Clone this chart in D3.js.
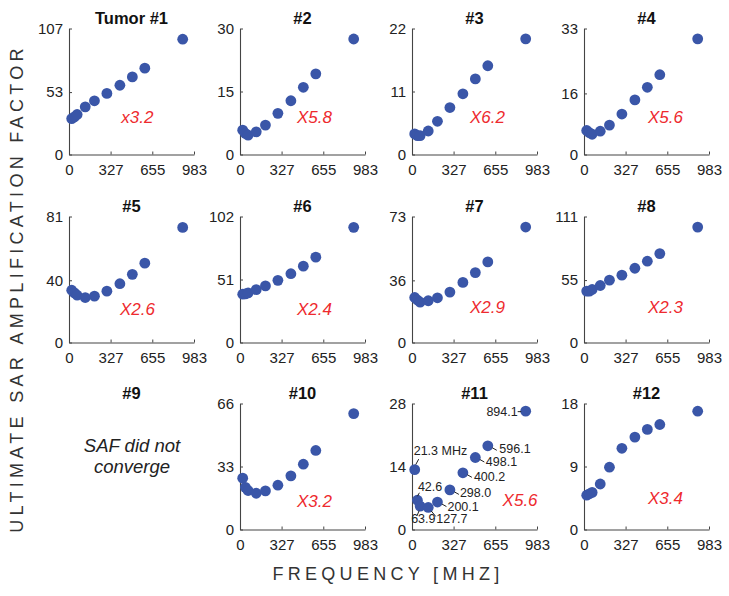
<!DOCTYPE html>
<html>
<head>
<meta charset="utf-8">
<script src="https://cdn.jsdelivr.net/npm/d3@7"></script>
<style>
  body { margin: 0; background: #fff; }
  text { font-family: "Liberation Sans", Arial, sans-serif; fill: #222; }
</style>
</head>
<body>
<svg id="chart" width="729" height="596"></svg>
<script>
// frequencies (MHz), same for every tumor
const freqs = [21.3, 42.6, 63.9, 127.7, 200.1, 298.0, 400.2, 498.1, 596.1, 894.1];
const xTicks = [0, 327, 655, 983];

const titles = ["Tumor #1", "#2", "#3", "#4", "#5", "#6", "#7", "#8", "#9", "#10", "#11", "#12"];
const yTicks = [
  [0, 53, 107], [0, 15, 30], [0, 11, 22], [0, 16, 33],
  [0, 40, 81], [0, 51, 102], [0, 36, 73], [0, 55, 111],
  null, [0, 33, 66], [0, 14, 28], [0, 9, 18]
];

// ultimate SAF values
const saf1  = [30.5, 31.9, 34.0, 40.5, 45.6, 51.9, 58.8, 65.9, 73.3, 97.9];
const saf2  = [5.8, 5.0, 4.6, 5.4, 7.0, 9.8, 12.8, 16.0, 19.2, 27.5];
const saf3  = [3.6, 3.3, 3.3, 4.1, 5.8, 8.2, 10.6, 13.2, 15.5, 20.2];
const saf4  = [6.3, 5.7, 5.3, 6.1, 7.7, 10.6, 14.3, 17.6, 20.9, 30.3];
const saf5  = [33.6, 31.9, 30.4, 28.9, 29.8, 33.0, 37.8, 43.8, 51.0, 74.0];
const saf6  = [39.1, 39.4, 40.2, 42.8, 45.8, 50.3, 55.7, 61.8, 69.1, 93.2];
const saf7  = [26.1, 24.6, 23.4, 24.2, 25.9, 29.2, 34.8, 40.5, 46.7, 66.9];
const saf8  = [45.3, 45.3, 46.7, 50.2, 54.9, 59.3, 65.4, 71.6, 78.3, 101.7];
const saf10 = [26.9, 22.1, 20.4, 19.0, 20.2, 23.2, 28.1, 34.2, 41.4, 60.7];
const saf11 = [13.3, 6.5, 5.2, 4.9, 6.1, 8.8, 12.6, 16.0, 18.6, 26.3];
const saf12 = [4.9, 5.1, 5.3, 6.5, 8.9, 11.6, 13.2, 14.3, 15.0, 16.9];
const safAll = [saf1, saf2, saf3, saf4, saf5, saf6, saf7, saf8, null, saf10, saf11, saf12];

const factors = ["x3.2", "X5.8", "X6.2", "X5.6", "X2.6", "X2.4", "X2.9", "X2.3", null, "X3.2", "X5.6", "X3.4"];
const noConvergeText = ["SAF did not", "converge"];
const annoLabels = ["21.3 MHz", "42.6", "63.9", "127.7", "200.1", "298.0", "400.2", "498.1", "596.1", "894.1"];

// layout
const colX = [69, 240, 412, 584];
const rowTop = [28.5, 216.5, 403.5];
const pw = 125, ph = 126;
const dotColor = "#3a56a8";
const red = "#ee2a2e";
// factor label: x in data units, lift in px above the x axis
const factorX = [538, 585, 593, 640, 538, 585, 593, 640, null, 585, 850, 640];
const factorLift = [32, 32, 32, 32, 28, 28, 30, 30, null, 23, 24, 26];
// panel #11 leaders: [x1, y1, x2, y2] and text offset relative to the dot
const annoLayout = [
  { line: [1, -5, 4, -10.5], tx: -1, ty: -14.5, anchor: "start" },
  { line: [0, -4, 2, -7.5], tx: 0.5, ty: -9, anchor: "start" },
  { line: [-1, 4.5, -3, 9.5], tx: -9, ty: 16.5, anchor: "start" },
  { line: [3, 3.5, 7.5, 9], tx: 8, ty: 16, anchor: "start" },
  { line: [4.5, 2, 9, 4.5], tx: 10, ty: 8.5, anchor: "start" },
  { line: [4.5, 2, 9, 4.5], tx: 10, ty: 7.5, anchor: "start" },
  { line: [4.5, 2, 9, 4.5], tx: 11, ty: 8, anchor: "start" },
  { line: [4.5, 2, 9, 4.5], tx: 10.5, ty: 8, anchor: "start" },
  { line: [4.5, 2, 9, 4.5], tx: 11.5, ty: 7.5, anchor: "start" },
  { line: [-4.5, 0.5, -8, 0.5], tx: -8, ty: 4.5, anchor: "end" }
];

const svg = d3.select("#chart");

titles.forEach((title, i) => {
  const col = i % 4, row = Math.floor(i / 4);
  const g = svg.append("g").attr("transform", `translate(${colX[col]},${rowTop[row]})`);

  g.append("text")
    .attr("x", pw / 2).attr("y", -5)
    .attr("text-anchor", "middle")
    .style("font-size", "16.5px").style("font-weight", "bold").style("fill", "#111")
    .text(title);

  const vals = safAll[i];
  if (!vals) {
    g.selectAll(".msg")
      .data(noConvergeText)
      .enter().append("text")
      .attr("class", "msg")
      .attr("x", pw / 2 + 0.5)
      .attr("y", (d, k) => 48.5 + k * 21)
      .attr("text-anchor", "middle")
      .style("font-size", "18.5px").style("font-style", "italic")
      .text(d => d);
    return;
  }

  const x = d3.scaleLinear().domain([0, 983]).range([0, pw]);
  const yt = yTicks[i];
  const y = d3.scaleLinear().domain([0, yt[2]]).range([ph, 0]);

  const xAxis = g.append("g").attr("transform", `translate(0,${ph})`)
    .call(d3.axisBottom(x).tickValues(xTicks).tickSize(-3).tickSizeOuter(0).tickPadding(10));
  const yAxis = g.append("g")
    .call(d3.axisLeft(y).tickValues(yt).tickSize(-3).tickSizeOuter(0).tickPadding(6));

  [xAxis, yAxis].forEach(a => {
    a.select(".domain").attr("stroke", "#444").attr("stroke-width", 1.1);
    a.selectAll(".tick line").attr("stroke", "#444");
    a.selectAll(".tick text").style("font-size", "15px").style("fill", "#222")
      .attr("font-family", null);
  });

  g.selectAll(".dot")
    .data(vals)
    .enter().append("circle")
    .attr("class", "dot")
    .attr("cx", (d, k) => x(freqs[k]))
    .attr("cy", d => y(d))
    .attr("r", 5.4)
    .style("fill", dotColor);

  g.append("text")
    .attr("x", x(factorX[i]))
    .attr("y", ph - factorLift[i])
    .attr("text-anchor", "middle")
    .style("font-size", "17px").style("font-style", "italic").style("fill", red)
    .text(factors[i]);

  if (title === "#11") {
    const ann = g.selectAll(".anno")
      .data(vals)
      .enter().append("g")
      .attr("class", "anno")
      .attr("transform", (d, k) => `translate(${x(freqs[k])},${y(d)})`);
    ann.append("line")
      .attr("x1", (d, k) => annoLayout[k].line[0])
      .attr("y1", (d, k) => annoLayout[k].line[1])
      .attr("x2", (d, k) => annoLayout[k].line[2])
      .attr("y2", (d, k) => annoLayout[k].line[3])
      .attr("stroke", "#222").attr("stroke-width", 1);
    ann.append("text")
      .attr("x", (d, k) => annoLayout[k].tx)
      .attr("y", (d, k) => annoLayout[k].ty)
      .attr("text-anchor", (d, k) => annoLayout[k].anchor)
      .style("font-size", "12.5px")
      .text((d, k) => annoLabels[k]);
  }
});

// shared axis titles
svg.append("text")
  .attr("transform", "translate(23,288.5) rotate(-90)")
  .attr("text-anchor", "middle")
  .style("font-size", "18px").style("letter-spacing", "4.3px").style("fill", "#333")
  .text("ULTIMATE SAR AMPLIFICATION FACTOR");

svg.append("text")
  .attr("x", 388).attr("y", 580)
  .attr("text-anchor", "middle")
  .style("font-size", "18px").style("letter-spacing", "4.3px").style("fill", "#333")
  .text("FREQUENCY [MHZ]");
</script>
</body>
</html>
